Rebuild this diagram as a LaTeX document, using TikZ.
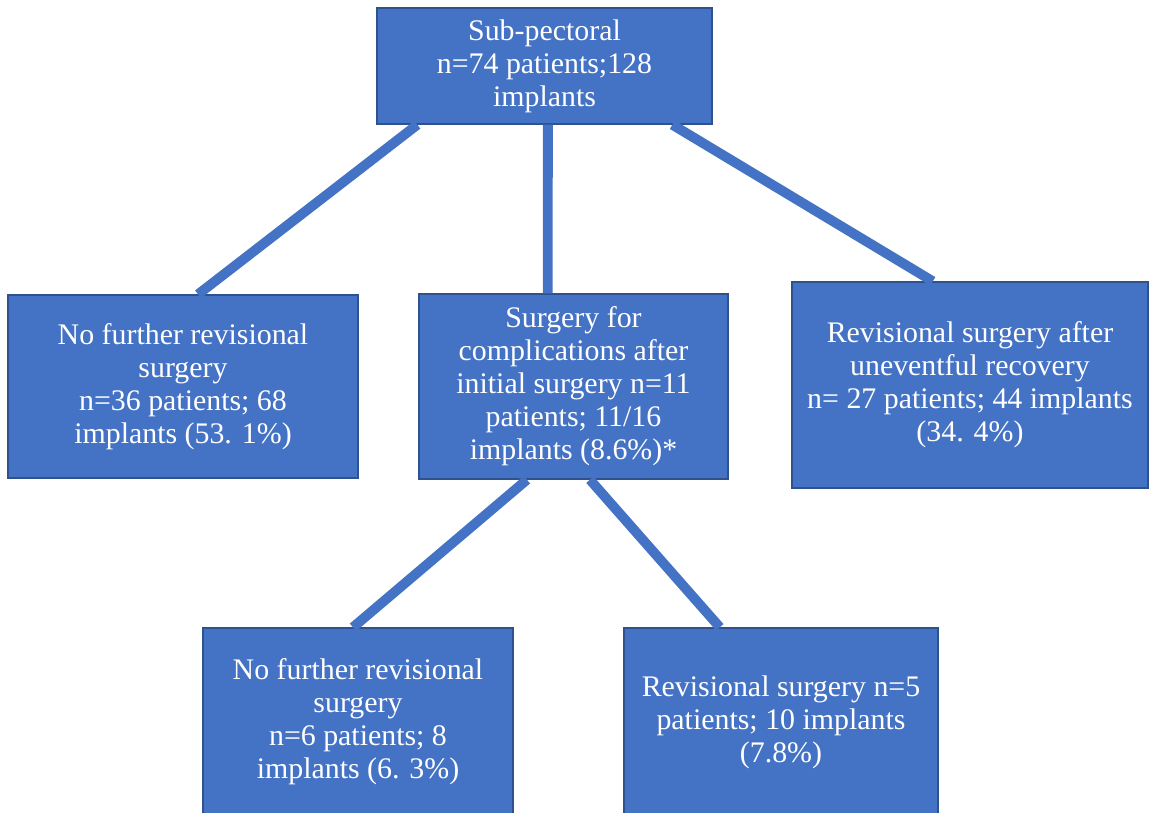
\documentclass[tikz,border=0pt]{standalone}
\usepackage{fontspec}
\setmainfont{Liberation Serif}
\usepackage{xcolor}
\definecolor{boxfill}{RGB}{68, 114, 196}
\definecolor{boxedge}{RGB}{47, 82, 143}
\usepackage{tikz}
\usetikzlibrary{calc}

\tikzset{
  stage/.style={draw=boxedge, line width=0.8pt, fill=boxfill, text=white,
    align=center, inner sep=0pt, font=\fontsize{17}{18.8}\selectfont},
  link/.style={draw=boxfill, line width=5.6pt},
}

\begin{document}
\begin{tikzpicture}
  \useasboundingbox (0,0) rectangle (23.06,-16.24);
  \node[stage, minimum width=6.7cm, minimum height=2.32cm] (subpec) at (10.89,-1.32)
    {Sub-pectoral\\n=74 patients;128\\implants};
  \node[stage, minimum width=7.0cm, minimum height=3.66cm] (nofurther) at (3.66,-7.73)
    {No further revisional\\surgery\\n=36 patients; 68\\implants (53. 1\%)};
  \node[stage, minimum width=6.18cm, minimum height=3.7cm] (complic) at (11.47,-7.73)
    {Surgery for\\complications after\\initial surgery n=11\\patients; 11/16\\implants (8.6\%)*};
  \node[stage, minimum width=7.12cm, minimum height=4.12cm] (revision) at (19.4,-7.7)
    {Revisional surgery after\\uneventful recovery\\n= 27 patients; 44 implants\\(34. 4\%)};
  \node[stage, minimum width=6.2cm, minimum height=3.76cm] (nofurtherb) at (7.16,-14.44)
    {No further revisional\\surgery\\n=6 patients; 8\\implants (6. 3\%)};
  \node[stage, minimum width=6.28cm, minimum height=3.76cm] (revisionb) at (15.62,-14.44)
    {Revisional surgery n=5\\patients; 10 implants\\(7.8\%)};
  % links from the top box
  \draw[link] ($(subpec.south west)!0.122!(subpec.south east)$)
    -- ($(nofurther.north west)!0.543!(nofurther.north east)$);
  \draw[link] ($(subpec.south west)!0.51!(subpec.south east)$)
    -- ($(complic.north west)!0.417!(complic.north east)$);
  \draw[link] ($(subpec.south west)!0.88!(subpec.south east)$)
    -- ($(revision.north west)!0.396!(revision.north east)$);
  % links from the complications box
  \draw[link] ($(complic.south west)!0.35!(complic.south east)$)
    -- ($(nofurtherb.north west)!0.484!(nofurtherb.north east)$);
  \draw[link] ($(complic.south west)!0.553!(complic.south east)$)
    -- ($(revisionb.north west)!0.306!(revisionb.north east)$);
\end{tikzpicture}
\end{document}
